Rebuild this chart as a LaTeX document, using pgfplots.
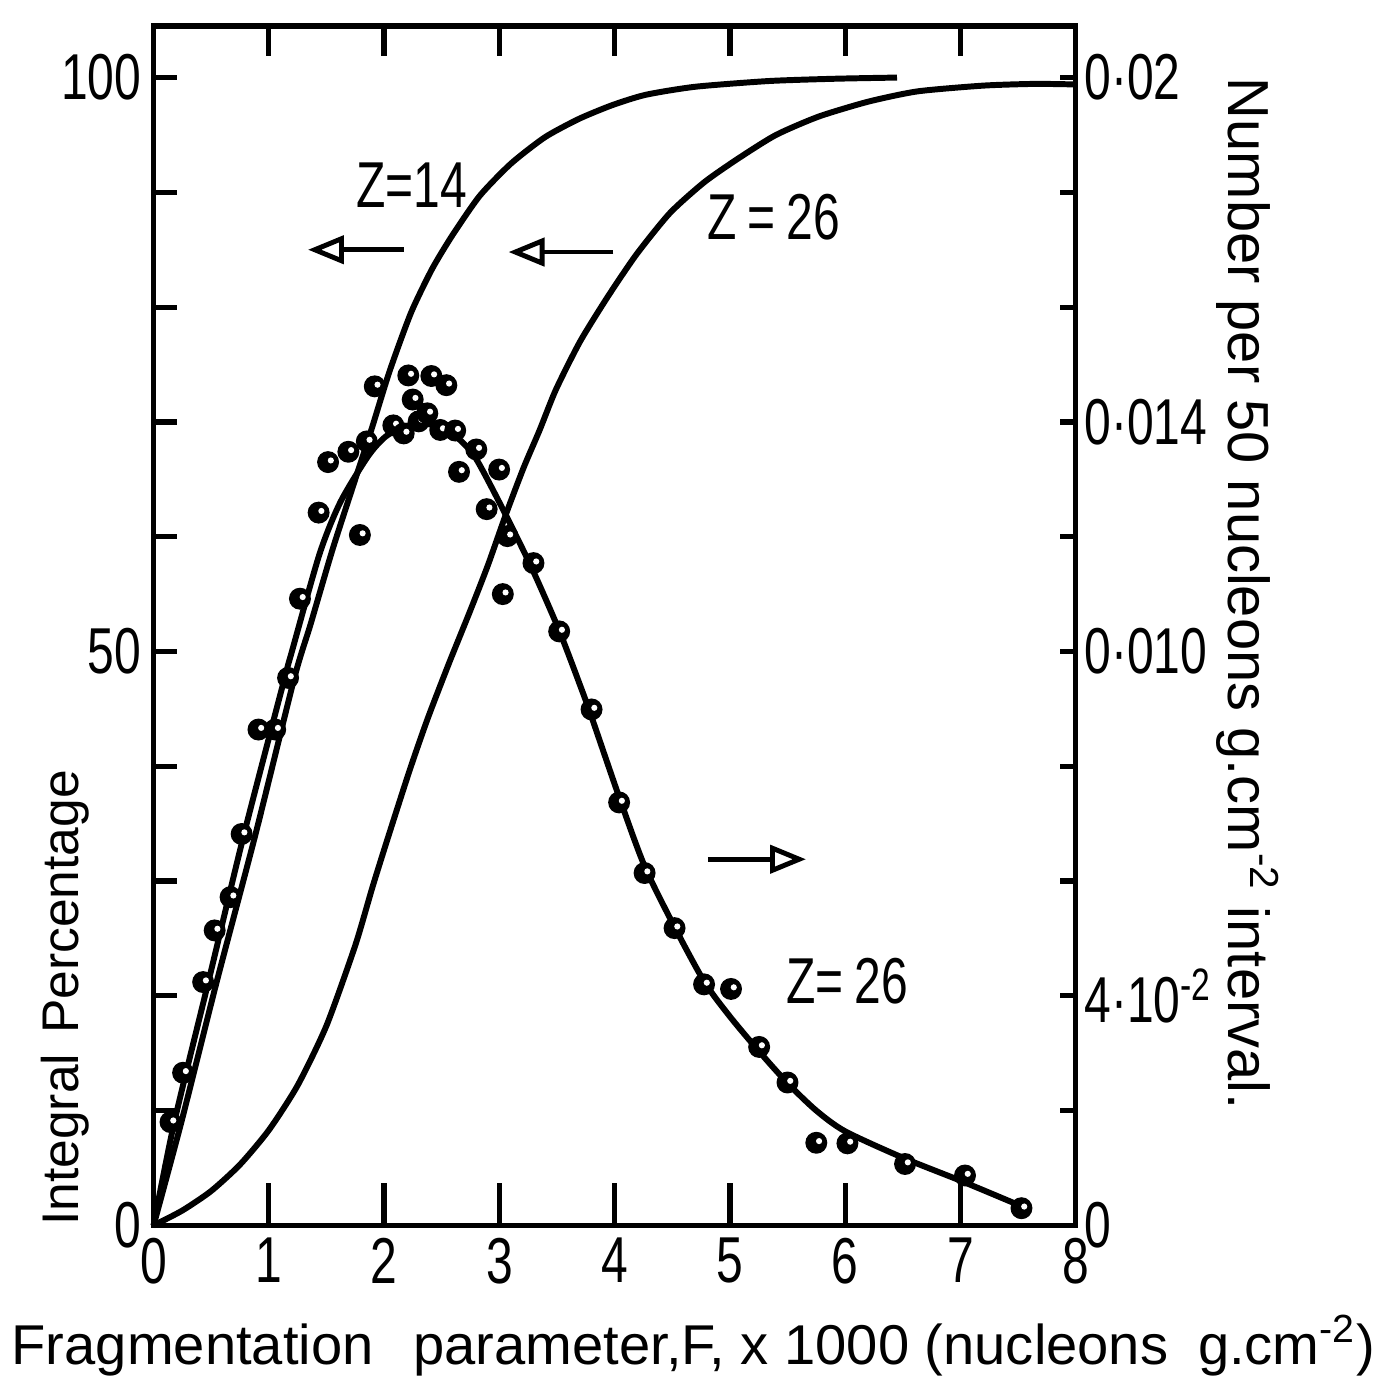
\documentclass[border=0pt]{standalone}
\usepackage{fontspec}
\setmainfont{Liberation Sans}
\newfontfamily\narrowfont{Liberation Sans}[FakeStretch=0.74]
\usepackage{pgfplots}
\pgfplotsset{compat=1.18}
\usetikzlibrary{arrows.meta}

\pgfdeclareplotmark{speck}{%
  \pgfpathcircle{\pgfpointorigin}{\pgfplotmarksize}%
  \pgfsetfillcolor{black}\pgfusepath{fill}%
  \pgfpathcircle{\pgfpoint{0.25\pgfplotmarksize}{0.15\pgfplotmarksize}}{0.28\pgfplotmarksize}%
  \pgfsetfillcolor{white}\pgfusepath{fill}%
}

\pgfplotsset{
  base/.style={
    scale only axis, width=92.4mm, height=120.2mm,
    xmin=0, xmax=8, clip=false,
    tick align=inside,
    axis line style={line width=1.5pt},
    tick style={line width=1.5pt, black},
    tick label style={font=\narrowfont\fontsize{18.5}{20}\selectfont},
  },
}
\tikzset{
  zlab/.style={font=\narrowfont\fontsize{18.5}{20}\selectfont},
  arr/.style={line width=1.4pt, -{Triangle[open,length=3.6mm,width=2.8mm,line width=1.4pt]}},
}

\begin{document}
\begin{tikzpicture}
% frame and bottom ticks
\begin{axis}[base, name=main, ymin=0, ymax=104.5,
  xtick={0,1,2,3,4,5,6,7,8}, xticklabels={0,1,2,3,4,5,6,7,8},
  xtick pos=left, major tick length=4.2mm, ytick=\empty]
\end{axis}
% top ticks
\begin{axis}[base, ymin=0, ymax=104.5, axis line style={draw=none},
  xtick={1,2,3,4,5,6,7}, xticklabels={}, xtick pos=right,
  major tick length=3mm, ytick=\empty]
\end{axis}
% left axis: integral percentage
\begin{axis}[base, ymin=0, ymax=104.5, axis line style={draw=none},
  xtick=\empty, ytick={0,10,20,30,40,50,60,70,80,90,100},
  yticklabels={0,{},{},{},{},50,{},{},{},{},100},
  ytick pos=left, major tick length=2.3mm]
 % Z=14
 \addplot[smooth, tension=0.4, line width=1.7pt, black] coordinates {
 (0,0) (0.241,9) (0.547,21.2) (0.885,34.1) (1.224,47.8) (1.36,52.3)
 (1.55,58.8) (1.74,64.7) (1.889,69.3) (2.047,74.4) (2.233,79.5)
 (2.415,83.3) (2.595,86.3) (2.83,89.7) (3.10,92.5) (3.395,94.8)
 (3.69,96.4) (3.98,97.6) (4.27,98.5) (4.70,99.2) (5.34,99.7)
 (5.92,99.9) (6.45,100)};
 % Z=26
 \addplot[smooth, tension=0.4, line width=1.7pt, black] coordinates {
 (0,0) (0.25,1.3) (0.5,3.0) (0.75,5.3) (1.0,8.3) (1.25,12.2) (1.5,17.4)
 (1.75,24.4) (1.9,29.5) (2.034,33.8) (2.22,39.6) (2.376,44.1) (2.56,48.9)
 (2.745,53.5) (2.90,57.5) (3.055,61.9) (3.21,66.0) (3.35,69.3) (3.49,72.8)
 (3.70,77.0) (3.94,80.9) (4.19,84.6) (4.48,88.2) (4.78,90.9) (5.08,93.0)
 (5.40,95.0) (5.77,96.6) (6.20,97.9) (6.63,98.8) (7.2,99.3) (7.65,99.45)
 (8.0,99.4)};
 \draw[arr] (axis cs:2.17,85.0) -- (axis cs:1.34,85.0);
 \draw[arr] (axis cs:3.99,84.8) -- (axis cs:3.08,84.8);
 \draw[arr] (axis cs:4.81,31.9) -- (axis cs:5.66,31.9);
 \node[zlab] at (axis cs:2.24,90.6) {Z=14};
 \node[zlab] at (axis cs:5.38,87.8) {Z\,=\,26};
 \node[zlab] at (axis cs:6.02,21.3) {Z=\,26};
\end{axis}
% right axis: number per 50 nucleons
\begin{axis}[base, ymin=0, ymax=0.0209, axis line style={draw=none},
  xtick=\empty, scaled y ticks=false,
  ytick={0,0.002,0.004,0.006,0.008,0.010,0.012,0.014,0.016,0.018,0.020},
  yticklabels={0,{},{4·10\textsuperscript{-2}},{},{},{0·010},{},{0·014},{},{},{0·02}},
  yticklabel style={inner xsep=0.8mm},
  ytick pos=right, major tick length=1.6mm]
 \addplot[smooth, tension=0.45, line width=1.7pt, black] coordinates {
 (0,0) (0.18,0.0018) (0.475,0.00424) (0.785,0.00682) (1.14,0.00956)
 (1.2,0.0100) (1.44,0.0117) (1.62,0.0126) (1.86,0.0134) (2.01,0.01374)
 (2.155,0.0139) (2.30,0.01398) (2.47,0.01392) (2.615,0.01376) (2.785,0.0134)
 (3.02,0.01252) (3.28,0.01146) (3.52,0.01036) (3.71,0.00936) (3.80,0.00886)
 (4.04,0.00746) (4.26,0.00626) (4.52,0.0052) (4.78,0.00424) (5.0,0.00364)
 (5.25,0.00304) (5.5,0.00248) (5.75,0.0020) (6.0,0.00164) (6.5,0.00118)
 (7.0,0.00078) (7.5,0.00036)};
 \addplot[only marks, mark=speck, mark size=1.1mm] table {
 x y
 0.147 0.00180
 0.256 0.00266
 0.43 0.00424
 0.53 0.00514
 0.668 0.00572
 0.764 0.00682
 0.91 0.00864
 1.055 0.00864
 1.167 0.00954
 1.27 0.01092
 1.432 0.01242
 1.514 0.01330
 1.69 0.01348
 1.79 0.01203
 1.85 0.01366
 1.919 0.01462
 2.08 0.01394
 2.17 0.01380
 2.21 0.01481
 2.248 0.01439
 2.30 0.01401
 2.375 0.01415
 2.41 0.01480
 2.487 0.01386
 2.54 0.01464
 2.617 0.01385
 2.65 0.01313
 2.80 0.01352
 2.89 0.01248
 2.998 0.01317
 3.03 0.01100
 3.07 0.01201
 3.296 0.01154
 3.519 0.01035
 3.80 0.00899
 4.039 0.00737
 4.26 0.00614
 4.52 0.00518
 4.776 0.00420
 5.01 0.00412
 5.254 0.00311
 5.50 0.00249
 5.75 0.00144
 6.02 0.00143
 6.52 0.00107
 7.04 0.00087
 7.53 0.00030
 };
\end{axis}
% axis titles
\node[anchor=base, font=\fontsize{16}{19}\selectfont]
  at ([shift={(54.1mm,-13.9mm)}]main.south west)
  {Fragmentation\hspace{4mm}parameter,F, x 1000 (nucleons\hspace{3mm}g.cm\textsuperscript{-2})};
\node[rotate=90, font=\fontsize{14.7}{17}\selectfont]
  at ([shift={(-8.9mm,22.8mm)}]main.south west) {Integral\hspace{2mm}Percentage};
\node[rotate=-90, font=\fontsize{16.5}{19}\selectfont]
  at ([shift={(109.6mm,63.3mm)}]main.south west)
  {Number per 50 nucleons g.cm\textsuperscript{-2} interval.};
\path ([shift={(-15.1mm,-15.6mm)}]main.south west) rectangle ([shift={(123.8mm,122.8mm)}]main.south west);
\end{tikzpicture}
\end{document}
